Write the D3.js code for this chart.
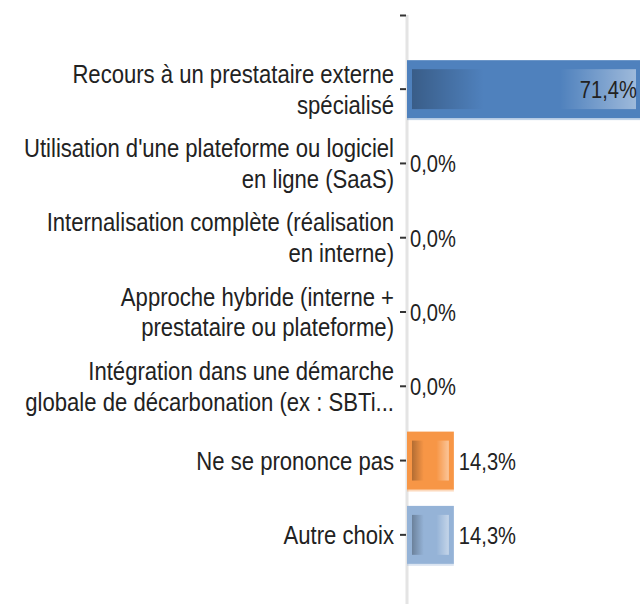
<!DOCTYPE html>
<html><head><meta charset="utf-8">
<script src="https://cdn.jsdelivr.net/npm/d3@7"></script>
<style>
html,body{margin:0;padding:0;background:#fff;}
svg{display:block;font-family:"Liberation Sans",Arial,sans-serif;}
</style></head>
<body><svg id="chart" width="640" height="604"></svg>
<script>
const categories = [
  "Recours à un prestataire externe|spécialisé",
  "Utilisation d'une plateforme ou logiciel|en ligne (SaaS)",
  "Internalisation complète (réalisation|en interne)",
  "Approche hybride (interne +|prestataire ou plateforme)",
  "Intégration dans une démarche|globale de décarbonation (ex : SBTi...",
  "Ne se prononce pas",
  "Autre choix"
];
const values = [71.4, 0, 0, 0, 0, 14.3, 14.3];
const valueLabels = ["71,4%", "0,0%", "0,0%", "0,0%", "0,0%", "14,3%", "14,3%"];
const barColors = ["#4F81BD", "#4F81BD", "#4F81BD", "#4F81BD", "#4F81BD", "#F79646", "#95B3D7"];

const svg = d3.select("#chart");
const axisX = 407;
const y = d3.scaleBand().domain(categories).range([52, 572]).paddingInner(0.22).paddingOuter(0.11);
const x = d3.scaleLinear().domain([0, 71.4]).range([axisX, 641]);

// gradient overlay
const defs = svg.append("defs");
const g = defs.append("linearGradient").attr("id", "shade").attr("x1", "0").attr("x2", "1").attr("y1", "0").attr("y2", "0");
g.append("stop").attr("offset", "0").attr("stop-color", "#000").attr("stop-opacity", 0.28);
g.append("stop").attr("offset", "0.32").attr("stop-color", "#000").attr("stop-opacity", 0);
g.append("stop").attr("offset", "0.66").attr("stop-color", "#fff").attr("stop-opacity", 0);
g.append("stop").attr("offset", "1").attr("stop-color", "#fff").attr("stop-opacity", 0.45);

// axis line
svg.append("line").attr("x1", axisX).attr("x2", axisX).attr("y1", 15).attr("y2", 604)
  .attr("stroke", "#e4e4e4").attr("stroke-width", 3);
svg.append("line").attr("x1", 400).attr("x2", axisX - 1).attr("y1", 15.5).attr("y2", 15.5)
  .attr("stroke", "#333").attr("stroke-width", 2);

const bars = svg.append("g");
categories.forEach((c, i) => {
  if (values[i] <= 0) return;
  const y0 = y(c), h = y.bandwidth();
  const w = x(values[i]) - x(0);
  bars.append("rect").attr("x", x(0)).attr("y", y0 + h - 1).attr("width", w).attr("height", 3)
    .attr("fill", barColors[i]).attr("opacity", 0.35);
  bars.append("rect").attr("x", x(0)).attr("y", y0).attr("width", w).attr("height", h)
    .attr("fill", barColors[i]);
  bars.append("rect").attr("x", x(0) + 5).attr("y", y0 + 9).attr("width", Math.max(0, w - 10)).attr("height", h - 18)
    .attr("fill", "url(#shade)");
});

// category axis with ticks
const ax = svg.append("g").attr("transform", `translate(${axisX - 1},0)`)
  .call(d3.axisLeft(y).tickSize(6).tickSizeOuter(0).tickFormat(""));
ax.select(".domain").remove();
ax.selectAll(".tick line").attr("stroke", "#333").attr("stroke-width", 2);

// category labels
const labels = svg.append("g").attr("font-size", 26).attr("fill", "#222").attr("text-anchor", "end");
categories.forEach(c => {
  const lines = c.split("|");
  const cy = y(c) + y.bandwidth() / 2;
  const lh = 31;
  const t = labels.append("text").attr("transform", `translate(394,${cy}) scale(0.85,1)`);
  lines.forEach((ln, k) => {
    t.append("tspan").attr("x", 0)
      .attr("y", -(lines.length - 1) * lh / 2 + k * lh + 9)
      .text(ln);
  });
});

// value labels
const vl = svg.append("g").attr("font-size", 24).attr("fill", "#222");
categories.forEach((c, i) => {
  const cy = y(c) + y.bandwidth() / 2;
  const inside = values[i] > 50;
  const tx = inside ? x(values[i]) - 4 : x(values[i]) + (values[i] > 0 ? 5 : 3);
  vl.append("text")
    .attr("transform", `translate(${tx},${cy + 9}) scale(0.84,1)`)
    .attr("text-anchor", inside ? "end" : "start")
    .text(valueLabels[i]);
});
</script></body></html>
